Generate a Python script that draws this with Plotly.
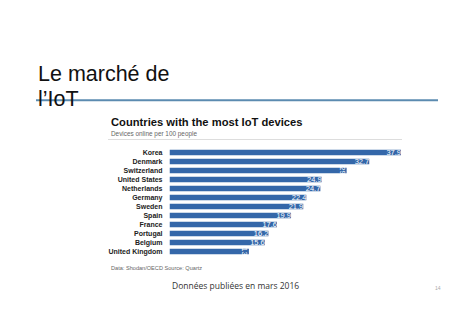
import plotly.graph_objects as go

countries = ["Korea", "Denmark", "Switzerland", "United States", "Netherlands", "Germany",
             "Sweden", "Spain", "France", "Portugal", "Belgium", "United Kingdom"]
values = [37.9, 32.7, 29, 24.9, 24.7, 22.4, 21.9, 19.9, 17.6, 16.2, 15.6, 13]
value_labels = ["37.9", "32.7", "29", "24.9", "24.7", "22.4", "21.9", "19.9", "17.6", "16.2", "15.6", "13"]

W, H = 474, 335
def px(x): return x / W
def py(y): return 1 - y / H

BAR = "#3467a9"

fig = go.Figure(go.Bar(
    x=values, y=countries, orientation="h",
    marker=dict(color=BAR, line=dict(width=0)),
    width=0.6,
    text=value_labels, textposition="inside", insidetextanchor="end",
    textfont=dict(color="white", size=7.5, family="Liberation Sans"),
    cliponaxis=False, hoverinfo="skip",
))

fig.update_layout(
    width=W, height=H,
    margin=dict(l=0, r=0, t=0, b=0),
    paper_bgcolor="white", plot_bgcolor="white",
    showlegend=False,
    uniformtext=dict(minsize=7.5, mode="show"),
    xaxis=dict(domain=[px(169.5), px(401)], range=[0, 37.9], visible=False, fixedrange=True),
    yaxis=dict(domain=[py(256), py(148)], range=[11.5, -0.5], showgrid=False, zeroline=False,
               showline=False, ticks="", ticklabelstandoff=6,
               tickfont=dict(family="Liberation Sans", size=7, color="#222"),
               tickvals=countries, ticktext=["<b>%s</b>" % c for c in countries]),
    font=dict(family="Liberation Sans"),
)

ann = [
    dict(text="Le marché de", x=px(36), y=py(73.5), size=21.5, color="#111", family="Liberation Sans"),
    dict(text="l’IoT", x=px(36), y=py(98.5), size=21.5, color="#111", family="Liberation Sans"),
    dict(text="<b>Countries with the most IoT devices</b>", x=px(109), y=py(122), size=11.2, color="#111", family="Liberation Sans"),
    dict(text="Devices online per 100 people", x=px(109), y=py(133.5), size=6.4, color="#666", family="Liberation Sans"),
    dict(text="Data: Shodan/OECD Source: Quartz", x=px(109), y=py(268), size=5.6, color="#666", family="Liberation Sans"),
    dict(text="14", x=px(433), y=py(288), size=5, color="#aaa", family="Liberation Sans"),
]
for a in ann:
    fig.add_annotation(text=a["text"], x=a["x"], y=a["y"], xref="paper", yref="paper",
                       xanchor="left", yanchor="middle", showarrow=False,
                       font=dict(size=a["size"], color=a["color"], family=a["family"]))

fig.add_annotation(text="Données publiées en mars 2016", x=px(235.5), y=py(285), xref="paper", yref="paper",
                   xanchor="center", yanchor="middle", showarrow=False,
                   font=dict(size=8.5, color="#333", family="Open Sans"))

fig.add_shape(type="line", xref="paper", yref="paper", x0=px(36), x1=px(438), y0=py(100.3), y1=py(100.3),
              line=dict(color="#5b8bb0", width=2), layer="above")
fig.add_shape(type="line", xref="paper", yref="paper", x0=px(108), x1=px(402), y0=py(139.5), y1=py(139.5),
              line=dict(color="#dddddd", width=1), layer="above")

fig.write_html("out.html", config=dict(displayModeBar=False))
